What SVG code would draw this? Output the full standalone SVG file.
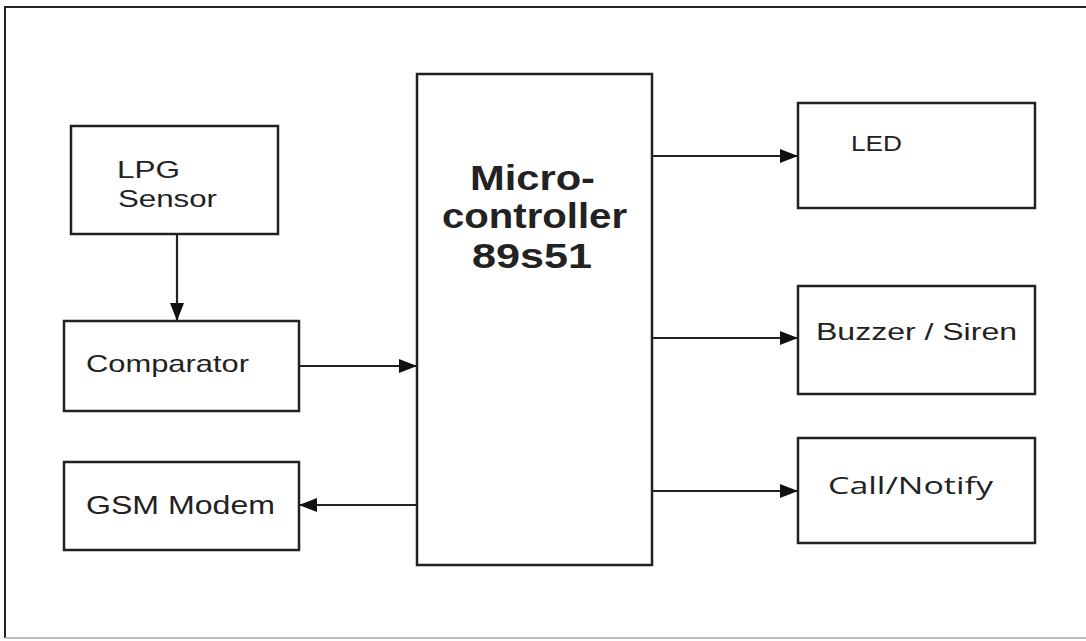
<svg xmlns="http://www.w3.org/2000/svg" width="1086" height="641" viewBox="0 0 1086 641">
<style>
.box{fill:#fff;stroke:#222;stroke-width:2.5}
.t{font-family:"Liberation Sans",Arial,sans-serif;fill:#222}
.c{stroke:#222;stroke-width:2.2;fill:none}
</style>
<defs>
<marker id="ah" markerWidth="18" markerHeight="14" refX="17" refY="7" orient="auto" markerUnits="userSpaceOnUse">
<path d="M0,0 L18,7 L0,14 Z" fill="#111"/>
</marker>
</defs>
<rect width="1086" height="641" fill="#fff"/>
<path d="M5,638 V7 H1086" stroke="#222" stroke-width="2" fill="none"/>
<line x1="5" y1="638" x2="1086" y2="638" stroke="#bbb" stroke-width="2"/>
<g id="lpg"><rect class="box" x="71" y="126" width="207" height="108"/>
<text class="t" x="117" y="178" font-size="24" textLength="63" lengthAdjust="spacingAndGlyphs">LPG</text>
<text class="t" x="118" y="207" font-size="24" textLength="99" lengthAdjust="spacingAndGlyphs">Sensor</text></g>
<g id="comparator"><rect class="box" x="64" y="321" width="235" height="90"/>
<text class="t" x="86" y="372" font-size="24" textLength="163" lengthAdjust="spacingAndGlyphs">Comparator</text></g>
<g id="gsm"><rect class="box" x="64" y="462" width="235" height="88"/>
<text class="t" x="86" y="514" font-size="25" textLength="189" lengthAdjust="spacingAndGlyphs">GSM Modem</text></g>
<g id="micro"><rect class="box" x="417" y="74" width="235" height="491"/>
<text class="t" x="470" y="190" font-size="35" font-weight="bold" textLength="125" lengthAdjust="spacingAndGlyphs">Micro-</text>
<text class="t" x="442" y="228" font-size="35" font-weight="bold" textLength="185" lengthAdjust="spacingAndGlyphs">controller</text>
<text class="t" x="472" y="268" font-size="35" font-weight="bold" textLength="120" lengthAdjust="spacingAndGlyphs">89s51</text></g>
<g id="led"><rect class="box" x="798" y="103" width="237" height="105"/>
<text class="t" x="851" y="151" font-size="22" textLength="51" lengthAdjust="spacingAndGlyphs">LED</text></g>
<g id="buzzer"><rect class="box" x="798" y="286" width="237" height="108"/>
<text class="t" x="816" y="340" font-size="24" textLength="201" lengthAdjust="spacingAndGlyphs">Buzzer / Siren</text></g>
<g id="call"><rect class="box" x="798" y="438" width="237" height="105"/>
<text class="t" x="828" y="494" font-size="24" style="font-family:'Open Sans','Noto Sans',sans-serif" textLength="165" lengthAdjust="spacingAndGlyphs">Call/Notify</text></g>
<g id="connectors">
<line class="c" x1="177" y1="234" x2="177" y2="320" marker-end="url(#ah)"/>
<line class="c" x1="299" y1="366" x2="416" y2="366" marker-end="url(#ah)"/>
<line class="c" x1="417" y1="505" x2="300" y2="505" marker-end="url(#ah)"/>
<line class="c" x1="652" y1="156" x2="797" y2="156" marker-end="url(#ah)"/>
<line class="c" x1="652" y1="338" x2="797" y2="338" marker-end="url(#ah)"/>
<line class="c" x1="652" y1="491" x2="797" y2="491" marker-end="url(#ah)"/>
</g>
</svg>
